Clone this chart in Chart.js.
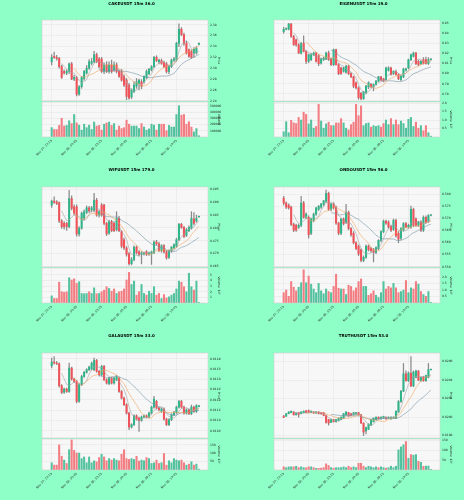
<!DOCTYPE html>
<html>
<head>
<meta charset="utf-8">
<script src="https://cdn.jsdelivr.net/npm/chart.js@4.4.0/dist/chart.umd.min.js"></script>
<style>
html, body { margin: 0; padding: 0; background: #8dffc7; }
#fig { position: relative; width: 464px; height: 500px; overflow: hidden; }
</style>
</head>
<body>
<div id="fig"></div>
<script>
// shared x axis: 60 candles of 15m, a label every 10 candles
const timeLabels = ['Nov 07, 22:15', 'Nov 08, 00:45', 'Nov 08, 03:15', 'Nov 08, 05:45', 'Nov 08, 08:15', 'Nov 08, 10:45'];
const timeTickIdx = [0, 10, 20, 30, 40, 50];
const mavPeriods = [5, 10, 20];

// CAKEUSDT
const cakeOpen = [2.312,2.322,2.320,2.318,2.303,2.294,2.291,2.294,2.308,2.280, 2.283,2.252,2.266,2.281,2.291,2.300,2.309,2.312,2.325,2.317, 2.317,2.294,2.306,2.294,2.306,2.297,2.306,2.294,2.294,2.285, 2.278,2.269,2.247,2.257,2.267,2.272,2.275,2.275,2.283,2.290, 2.297,2.303,2.320,2.312,2.314,2.310,2.308,2.294,2.303,2.315, 2.315,2.346,2.372,2.362,2.346,2.334,2.331,2.328,2.328,2.344];
const cakeHigh = [2.325,2.330,2.324,2.320,2.306,2.297,2.297,2.310,2.311,2.287, 2.285,2.268,2.285,2.296,2.305,2.316,2.318,2.331,2.328,2.320, 2.320,2.310,2.312,2.312,2.315,2.312,2.310,2.297,2.298,2.288, 2.281,2.272,2.262,2.275,2.281,2.280,2.279,2.286,2.297,2.300, 2.305,2.322,2.323,2.317,2.317,2.313,2.311,2.306,2.317,2.320, 2.348,2.382,2.375,2.365,2.350,2.336,2.334,2.338,2.340,2.347];
const cakeLow = [2.306,2.318,2.315,2.300,2.281,2.289,2.288,2.290,2.279,2.277, 2.249,2.250,2.263,2.278,2.289,2.298,2.306,2.310,2.310,2.300, 2.292,2.290,2.292,2.291,2.291,2.294,2.291,2.283,2.276,2.266, 2.242,2.243,2.244,2.255,2.263,2.260,2.262,2.272,2.281,2.288, 2.295,2.301,2.312,2.308,2.307,2.301,2.291,2.290,2.301,2.312, 2.313,2.340,2.360,2.342,2.326,2.320,2.318,2.320,2.326,2.343];
const cakeClose = [2.320,2.320,2.318,2.303,2.283,2.291,2.294,2.308,2.280,2.283, 2.252,2.266,2.283,2.294,2.300,2.312,2.312,2.325,2.312,2.303, 2.294,2.306,2.294,2.306,2.294,2.306,2.294,2.285,2.278,2.269, 2.248,2.245,2.260,2.269,2.275,2.278,2.267,2.285,2.294,2.298, 2.303,2.320,2.314,2.315,2.309,2.303,2.294,2.303,2.315,2.317, 2.346,2.372,2.362,2.346,2.328,2.322,2.320,2.335,2.337,2.346];
const cakeVol = [150000,120000,120000,185000,300000,175000,185000,260000,215000,360000, 225000,190000,110000,205000,150000,190000,120000,240000,175000,185000, 110000,205000,225000,240000,185000,215000,110000,175000,135000,150000, 270000,205000,175000,175000,175000,135000,215000,160000,110000,130000, 205000,190000,110000,205000,205000,205000,100000,185000,160000,160000, 360000,500000,350000,360000,205000,245000,160000,80000,135000,20000];
const cakePriceTicks = [2.24, 2.26, 2.28, 2.30, 2.32, 2.34, 2.36, 2.38];
const cakeVolTicks = [100000, 200000, 300000, 400000, 500000];

// EIGENUSDT
const eigenOpen = [0.8418,0.8441,0.8441,0.8493,0.8369,0.8336,0.8287,0.8205,0.8303,0.8221, 0.8123,0.8139,0.8188,0.8205,0.8179,0.8106,0.8139,0.8146,0.8205,0.8146, 0.8090,0.8238,0.8090,0.8057,0.8024,0.8014,0.8074,0.8001,0.7969,0.7910, 0.7860,0.7805,0.7752,0.7811,0.7870,0.7893,0.7870,0.7893,0.7926,0.7969, 0.7949,0.7942,0.8034,0.8057,0.8001,0.8024,0.7992,0.7942,0.7969,0.8034, 0.8057,0.8139,0.8172,0.8205,0.8123,0.8100,0.8139,0.8139,0.8100,0.8139];
const eigenHigh = [0.8461,0.8455,0.8500,0.8500,0.8380,0.8345,0.8300,0.8310,0.8375,0.8230, 0.8195,0.8200,0.8215,0.8215,0.8190,0.8155,0.8165,0.8215,0.8225,0.8155, 0.8245,0.8245,0.8100,0.8065,0.8065,0.8085,0.8085,0.8010,0.7975,0.7920, 0.7870,0.7815,0.7825,0.7885,0.7920,0.7905,0.7900,0.7935,0.7975,0.7975, 0.7955,0.8065,0.8070,0.8065,0.8030,0.8035,0.8000,0.7985,0.8055,0.8055, 0.8145,0.8195,0.8215,0.8212,0.8135,0.8130,0.8160,0.8165,0.8160,0.8150];
const eigenLow = [0.8402,0.8435,0.8435,0.8360,0.8280,0.8270,0.8200,0.8195,0.8215,0.8100, 0.8110,0.8130,0.8180,0.8115,0.8080,0.8095,0.8130,0.8140,0.8130,0.8080, 0.8080,0.8085,0.7990,0.7992,0.8015,0.8005,0.7990,0.7960,0.7860,0.7850, 0.7746,0.7740,0.7745,0.7800,0.7850,0.7860,0.7830,0.7885,0.7920,0.7930, 0.7920,0.7935,0.8025,0.7985,0.7990,0.7985,0.7940,0.7930,0.7960,0.8025, 0.8050,0.8130,0.8165,0.8090,0.8080,0.8090,0.8095,0.8095,0.8090,0.8135];
const eigenClose = [0.8441,0.8448,0.8493,0.8369,0.8287,0.8287,0.8205,0.8303,0.8221,0.8123, 0.8188,0.8188,0.8205,0.8123,0.8100,0.8146,0.8156,0.8205,0.8139,0.8090, 0.8238,0.8090,0.8001,0.8001,0.8057,0.8074,0.8001,0.7969,0.7877,0.7860, 0.7762,0.7752,0.7818,0.7877,0.7910,0.7870,0.7893,0.7926,0.7969,0.7936, 0.7926,0.8057,0.8057,0.7992,0.8024,0.7992,0.7949,0.7975,0.8047,0.8047, 0.8139,0.8188,0.8205,0.8100,0.8090,0.8123,0.8100,0.8100,0.8139,0.8146];
const eigenVol = [0.31,0.9,0.25,0.98,0.83,0.79,1.15,1.0,1.46,1.33, 0.77,1.0,0.52,0.62,1.92,0.94,0.52,0.77,0.87,0.67, 0.67,0.83,0.83,1.08,0.83,0.52,0.42,0.73,0.87,1.92, 1.25,1.83,0.67,0.79,0.83,0.58,0.67,0.62,0.67,0.58, 0.79,1.0,0.73,1.08,0.73,1.0,0.73,0.94,0.79,0.52, 1.04,1.15,0.62,0.87,0.52,0.67,0.37,0.67,0.25,0.05];
const eigenPriceTicks = [0.78, 0.79, 0.80, 0.81, 0.82, 0.83, 0.84, 0.85];
const eigenVolTicks = [0.5, 1.0, 1.5, 2.0];

// WIFUSDT
const wifOpen = [0.4889,0.4904,0.4901,0.4898,0.4827,0.4818,0.4818,0.4805,0.4914,0.4882, 0.4882,0.4776,0.4799,0.4837,0.4860,0.4878,0.4869,0.4869,0.4908,0.4850, 0.4889,0.4889,0.4818,0.4780,0.4825,0.4818,0.4793,0.4837,0.4786,0.4754, 0.4722,0.4699,0.4661,0.4677,0.4725,0.4707,0.4697,0.4699,0.4707,0.4699, 0.4699,0.4703,0.4745,0.4738,0.4712,0.4731,0.4707,0.4686,0.4712,0.4722, 0.4729,0.4754,0.4814,0.4802,0.4771,0.4789,0.4799,0.4835,0.4827,0.4843];
const wifHigh = [0.4908,0.4921,0.4906,0.4901,0.4832,0.4825,0.4822,0.4946,0.4925,0.4890, 0.4890,0.4805,0.4862,0.4870,0.4885,0.4884,0.4884,0.4934,0.4915,0.4868, 0.4895,0.4892,0.4822,0.4830,0.4830,0.4825,0.4863,0.4845,0.4790,0.4760, 0.4728,0.4705,0.4685,0.4730,0.4730,0.4712,0.4708,0.4706,0.4712,0.4706, 0.4710,0.4750,0.4752,0.4745,0.4735,0.4735,0.4712,0.4715,0.4728,0.4738, 0.4760,0.4818,0.4818,0.4806,0.4798,0.4808,0.4863,0.4860,0.4850,0.4846];
const wifLow = [0.4880,0.4895,0.4890,0.4820,0.4798,0.4795,0.4790,0.4800,0.4870,0.4850, 0.4768,0.4768,0.4795,0.4830,0.4855,0.4860,0.4862,0.4862,0.4845,0.4842, 0.4845,0.4812,0.4770,0.4775,0.4785,0.4785,0.4788,0.4785,0.4722,0.4715, 0.4690,0.4655,0.4656,0.4672,0.4698,0.4690,0.4660,0.4694,0.4692,0.4693, 0.4658,0.4700,0.4733,0.4708,0.4705,0.4702,0.4678,0.4680,0.4705,0.4718, 0.4725,0.4750,0.4798,0.4762,0.4766,0.4785,0.4795,0.4812,0.4822,0.4841];
const wifClose = [0.4904,0.4899,0.4895,0.4827,0.4805,0.4805,0.4805,0.4914,0.4876,0.4857, 0.4776,0.4799,0.4857,0.4863,0.4878,0.4866,0.4878,0.4908,0.4850,0.4863, 0.4850,0.4818,0.4777,0.4825,0.4789,0.4789,0.4837,0.4789,0.4729,0.4722, 0.4697,0.4661,0.4677,0.4725,0.4703,0.4697,0.4703,0.4703,0.4697,0.4703, 0.4707,0.4745,0.4738,0.4712,0.4731,0.4707,0.4684,0.4712,0.4725,0.4735, 0.4754,0.4814,0.4802,0.4767,0.4793,0.4802,0.4837,0.4818,0.4837,0.4844];
const wifVol = [1.27,0.8,0.8,3.7,2.0,1.9,2.0,4.5,4.1,4.3, 3.5,3.8,1.7,1.65,1.7,2.0,1.7,2.7,1.65,1.7, 2.0,2.3,2.9,2.6,2.1,2.5,1.7,2.0,2.1,2.5, 4.1,5.45,3.3,3.9,1.4,2.0,3.3,1.7,1.4,2.1, 1.7,2.9,1.4,1.7,0.8,1.5,0.9,1.1,1.4,1.7, 2.5,3.9,3.7,2.9,2.0,5.3,2.9,2.3,3.9,0.1];
const wifPriceTicks = [0.465, 0.470, 0.475, 0.480, 0.485, 0.490, 0.495];
const wifVolTicks = [1, 2, 3, 4, 5];

// ONDOUSDT
const ondoOpen = [0.5783,0.5763,0.5754,0.5746,0.5675,0.5671,0.5662,0.5671,0.5763,0.5704, 0.5704,0.5638,0.5691,0.5717,0.5737,0.5746,0.5757,0.5770,0.5803,0.5737, 0.5759,0.5746,0.5680,0.5638,0.5697,0.5684,0.5724,0.5658,0.5638,0.5599, 0.5585,0.5570,0.5526,0.5539,0.5585,0.5575,0.5570,0.5559,0.5575,0.5609, 0.5645,0.5688,0.5684,0.5667,0.5654,0.5691,0.5638,0.5618,0.5651,0.5678, 0.5664,0.5664,0.5737,0.5697,0.5671,0.5684,0.5651,0.5704,0.5688,0.5712];
const ondoHigh = [0.5790,0.5768,0.5760,0.5750,0.5680,0.5676,0.5676,0.5790,0.5770,0.5722, 0.5710,0.5700,0.5722,0.5745,0.5753,0.5762,0.5774,0.5816,0.5808,0.5762, 0.5764,0.5750,0.5684,0.5700,0.5702,0.5757,0.5730,0.5662,0.5645,0.5604, 0.5590,0.5574,0.5545,0.5590,0.5590,0.5580,0.5576,0.5582,0.5612,0.5648, 0.5693,0.5693,0.5690,0.5672,0.5697,0.5697,0.5645,0.5662,0.5682,0.5683, 0.5676,0.5750,0.5742,0.5702,0.5688,0.5690,0.5710,0.5710,0.5715,0.5715];
const ondoLow = [0.5755,0.5740,0.5738,0.5670,0.5645,0.5646,0.5658,0.5665,0.5700,0.5698, 0.5618,0.5632,0.5685,0.5712,0.5732,0.5741,0.5752,0.5765,0.5732,0.5730, 0.5738,0.5675,0.5632,0.5632,0.5672,0.5678,0.5652,0.5625,0.5594,0.5570, 0.5546,0.5520,0.5521,0.5534,0.5565,0.5560,0.5520,0.5554,0.5570,0.5604, 0.5640,0.5675,0.5658,0.5645,0.5650,0.5622,0.5599,0.5612,0.5646,0.5660, 0.5658,0.5658,0.5665,0.5666,0.5666,0.5645,0.5645,0.5680,0.5682,0.5710];
const ondoClose = [0.5763,0.5746,0.5743,0.5675,0.5651,0.5651,0.5671,0.5763,0.5704,0.5717, 0.5632,0.5697,0.5717,0.5743,0.5750,0.5759,0.5772,0.5803,0.5737,0.5759, 0.5743,0.5680,0.5638,0.5697,0.5678,0.5724,0.5658,0.5632,0.5599,0.5575, 0.5553,0.5526,0.5539,0.5585,0.5570,0.5566,0.5559,0.5579,0.5609,0.5645, 0.5688,0.5680,0.5664,0.5651,0.5691,0.5628,0.5614,0.5658,0.5678,0.5664, 0.5671,0.5737,0.5671,0.5671,0.5684,0.5651,0.5704,0.5684,0.5711,0.5713];
const ondoVol = [0.79,0.99,0.51,1.64,1.21,0.93,1.21,1.55,2.54,1.55, 2.06,1.44,1.07,0.79,1.50,0.93,0.71,1.07,0.88,0.79, 1.27,2.20,1.13,1.07,1.07,0.65,1.36,1.27,0.93,1.16, 1.64,1.84,1.27,1.27,0.59,0.71,0.93,0.59,0.42,0.79, 1.64,1.07,1.27,1.16,1.50,1.16,0.79,0.88,0.99,1.72, 0.79,1.16,1.07,1.64,1.44,0.88,0.65,0.51,0.88,0.05];
const ondoPriceTicks = [0.550, 0.555, 0.560, 0.565, 0.570, 0.575, 0.580];
const ondoVolTicks = [0.5, 1.0, 1.5, 2.0];

// GALAUSDT
const galaOpen = [0.011366,0.011384,0.011379,0.011376,0.011269,0.011237,0.011253,0.011241,0.011355,0.011301, 0.011290,0.011193,0.011274,0.011314,0.011334,0.011347,0.011350,0.011347,0.011392,0.011339, 0.011322,0.011363,0.011298,0.011279,0.011306,0.011282,0.011298,0.011306,0.011241,0.011209, 0.011177,0.011136,0.011068,0.011080,0.011123,0.011112,0.011101,0.011117,0.011123,0.011117, 0.011136,0.011165,0.011193,0.011161,0.011144,0.011156,0.011107,0.011080,0.011104,0.011128, 0.011139,0.011165,0.011193,0.011165,0.011136,0.011152,0.011133,0.011165,0.011144,0.011168];
const galaHigh = [0.011403,0.011411,0.011387,0.011380,0.011274,0.011258,0.011258,0.011379,0.011360,0.011306, 0.011295,0.011279,0.011320,0.011339,0.011352,0.011365,0.011384,0.011403,0.011397,0.011344, 0.011368,0.011368,0.011303,0.011310,0.011311,0.011310,0.011320,0.011311,0.011246,0.011214, 0.011182,0.011141,0.011085,0.011128,0.011128,0.011117,0.011122,0.011128,0.011128,0.011141, 0.011170,0.011217,0.011198,0.011166,0.011161,0.011161,0.011112,0.011109,0.011133,0.011144, 0.011170,0.011198,0.011198,0.011170,0.011157,0.011157,0.011175,0.011170,0.011177,0.011174];
const galaLow = [0.011355,0.011374,0.011371,0.011262,0.011230,0.011232,0.011236,0.011236,0.011296,0.011284, 0.011185,0.011188,0.011269,0.011309,0.011330,0.011342,0.011345,0.011342,0.011334,0.011317, 0.011317,0.011293,0.011277,0.011274,0.011277,0.011277,0.011293,0.011236,0.011204,0.011172, 0.011131,0.011055,0.011063,0.011075,0.011102,0.011047,0.011096,0.011112,0.011112,0.011112, 0.011131,0.011160,0.011156,0.011147,0.011139,0.011102,0.011075,0.011075,0.011099,0.011123, 0.011134,0.011160,0.011160,0.011131,0.011131,0.011128,0.011128,0.011139,0.011139,0.011166];
const galaClose = [0.011384,0.011379,0.011376,0.011269,0.011237,0.011253,0.011241,0.011355,0.011301,0.011290, 0.011193,0.011274,0.011314,0.011334,0.011347,0.011360,0.011379,0.011392,0.011339,0.011322, 0.011363,0.011298,0.011282,0.011306,0.011282,0.011306,0.011314,0.011241,0.011209,0.011177, 0.011136,0.011068,0.011080,0.011123,0.011107,0.011101,0.011117,0.011123,0.011117,0.011136, 0.011165,0.011204,0.011161,0.011152,0.011156,0.011107,0.011080,0.011104,0.011128,0.011139, 0.011165,0.011193,0.011165,0.011136,0.011152,0.011133,0.011165,0.011144,0.011172,0.011172];
const galaVol = [43,29,29,150,82,59,39,121,180,117, 101,101,68,78,43,78,43,55,49,74, 94,78,55,68,59,68,59,55,94,121, 68,63,68,63,82,53,59,55,74,68, 39,43,59,39,43,98,29,55,43,68, 59,55,59,43,29,35,49,29,35,5];
const galaPriceTicks = [0.01105, 0.01110, 0.01115, 0.01120, 0.01125, 0.01130, 0.01135, 0.01140];
const galaVolTicks = [50, 100, 150];

// TRUTHUSDT
const truthOpen = [0.020011,0.020011,0.020038,0.020049,0.020056,0.020026,0.020049,0.020038,0.020049,0.020068, 0.020071,0.020049,0.020056,0.020045,0.020056,0.020049,0.020049,0.020019,0.019974,0.019944, 0.019974,0.019951,0.019963,0.019974,0.019989,0.020026,0.020049,0.020038,0.020026,0.020034, 0.020049,0.020026,0.019936,0.019850,0.019869,0.019914,0.019951,0.019974,0.020000,0.019981, 0.019989,0.020000,0.019989,0.019981,0.019989,0.019989,0.020056,0.020169,0.020281,0.020469, 0.020394,0.020476,0.020338,0.020431,0.020499,0.020394,0.020431,0.020394,0.020431,0.020512];
const truthHigh = [0.020019,0.020042,0.020060,0.020068,0.020060,0.020049,0.020053,0.020060,0.020068,0.020075, 0.020079,0.020068,0.020060,0.020060,0.020060,0.020053,0.020053,0.020023,0.019978,0.019978, 0.019978,0.019978,0.019993,0.020004,0.020042,0.020060,0.020053,0.020042,0.020053,0.020053, 0.020053,0.020030,0.019940,0.019892,0.019929,0.019978,0.019993,0.020004,0.020004,0.020004, 0.020011,0.020004,0.020004,0.020004,0.020004,0.020068,0.020180,0.020290,0.020581,0.020500, 0.020490,0.020656,0.020500,0.020510,0.020506,0.020440,0.020440,0.020455,0.020581,0.020520];
const truthLow = [0.019996,0.020008,0.020034,0.020045,0.020022,0.020022,0.020000,0.020034,0.020045,0.020045, 0.020045,0.020045,0.020041,0.020041,0.020034,0.020030,0.020015,0.019936,0.019914,0.019940, 0.019947,0.019947,0.019959,0.019970,0.019985,0.020022,0.020008,0.020015,0.020022,0.020030, 0.020022,0.019932,0.019801,0.019820,0.019865,0.019910,0.019947,0.019970,0.019978,0.019978, 0.019985,0.019978,0.019985,0.019978,0.019985,0.019985,0.020050,0.020160,0.020275,0.020390, 0.020385,0.020330,0.020330,0.020425,0.020395,0.020388,0.020388,0.020388,0.020425,0.020510];
const truthClose = [0.020000,0.020038,0.020056,0.020064,0.020026,0.020045,0.020030,0.020056,0.020064,0.020049, 0.020049,0.020064,0.020045,0.020056,0.020038,0.020038,0.020019,0.019944,0.019936,0.019974, 0.019951,0.019974,0.019989,0.020000,0.020038,0.020056,0.020011,0.020019,0.020049,0.020049, 0.020026,0.019936,0.019839,0.019888,0.019925,0.019974,0.019989,0.020000,0.019981,0.020000, 0.020008,0.019981,0.020000,0.020000,0.020000,0.020064,0.020169,0.020281,0.020469,0.020394, 0.020476,0.020338,0.020488,0.020499,0.020401,0.020431,0.020394,0.020450,0.020514,0.020514];
const truthVol = [16,12,16,16,16,19,12,16,12,11, 16,16,12,8,8,9,12,31,23,12, 9,12,12,12,16,12,19,12,16,12, 34,34,19,12,19,16,12,16,12,16, 12,9,12,19,12,19,102,117,128,144, 59,78,75,78,44,39,19,20,20,3];
const truthPriceTicks = [0.0198, 0.0200, 0.0202, 0.0204, 0.0206];
const truthVolTicks = [50, 100, 150];

// colours
const upColor = '#2fb48a';
const downColor = '#ef5258';
const volUpColor = '#52c29e';
const volDownColor = '#f27d83';
const wickColor = '#8a8a8a';
const mavColors = ['#a3a3a3', '#f3a55c', '#7594a5'];
const gridColor = '#e3e3e3';

Chart.defaults.font.family = "'DejaVu Sans', sans-serif";
Chart.defaults.color = '#222';

// panel geometry (px, relative to the panel top)
const rowTops = [0, 165, 330];
const rowGeom = [
    { titleY: 3.5, priceTop: 20, priceBottom: 101, volTop: 102, volBottom: 137 },
    { titleY: 5, priceTop: 22, priceBottom: 102, volTop: 103, volBottom: 138 },
    { titleY: 6, priceTop: 23, priceBottom: 108, volTop: 109, volBottom: 140 }
];
const xMin = -3.88, xMax = 62.64;

const panels = [
    { title: 'CAKEUSDT 15m 36.0', o: cakeOpen, h: cakeHigh, l: cakeLow, c: cakeClose, v: cakeVol,
      pTicks: cakePriceTicks, pDigits: 2, pMin: 2.2395, pMax: 2.389, vTicks: cakeVolTicks, vDigits: 0, vMax: 561000, vTitle: 'Volume', col: 0, row: 0 },
    { title: 'EIGENUSDT 15m 19.0', o: eigenOpen, h: eigenHigh, l: eigenLow, c: eigenClose, v: eigenVol,
      pTicks: eigenPriceTicks, pDigits: 2, pMin: 0.7729, pMax: 0.8533, vTicks: eigenVolTicks, vDigits: 1, vMax: 2.06, vTitle: 'Volume  10\u2075', col: 1, row: 0 },
    { title: 'WIFUSDT 15m 179.0', o: wifOpen, h: wifHigh, l: wifLow, c: wifClose, v: wifVol,
      pTicks: wifPriceTicks, pDigits: 3, pMin: 0.4648, pMax: 0.4959, vTicks: wifVolTicks, vDigits: 0, vMax: 6.24, vTitle: 'Volume  10\u2076', col: 0, row: 1 },
    { title: 'ONDOUSDT 15m 56.0', o: ondoOpen, h: ondoHigh, l: ondoLow, c: ondoClose, v: ondoVol,
      pTicks: ondoPriceTicks, pDigits: 3, pMin: 0.5499, pMax: 0.5829, vTicks: ondoVolTicks, vDigits: 1, vMax: 2.68, vTitle: 'Volume  10\u2076', col: 1, row: 1 },
    { title: 'GALAUSDT 15m 33.0', o: galaOpen, h: galaHigh, l: galaLow, c: galaClose, v: galaVol,
      pTicks: galaPriceTicks, pDigits: 5, pMin: 0.011015, pMax: 0.011428, vTicks: galaVolTicks, vDigits: 0, vMax: 185, vTitle: 'Volume  10\u2075', col: 0, row: 2 },
    { title: 'TRUTHUSDT 15m 53.0', o: truthOpen, h: truthHigh, l: truthLow, c: truthClose, v: truthVol,
      pTicks: truthPriceTicks, pDigits: 4, pMin: 0.019775, pMax: 0.020694, vTicks: truthVolTicks, vDigits: 0, vMax: 157, vTitle: 'Volume  10\u2076', col: 1, row: 2 }
];

function sma(values, n) {
    return values.map((_, i) => {
        if (i < n - 1) return null;
        let s = 0;
        for (let k = i - n + 1; k <= i; k++) s += values[k];
        return s / n;
    });
}

// light plot face plus thin frame, like the matplotlib axes
const plotFace = {
    id: 'plotFace',
    beforeDraw(chart) {
        const { ctx, chartArea: a } = chart;
        ctx.save();
        ctx.fillStyle = '#f7f7f7';
        ctx.fillRect(a.left, a.top, a.width, a.height);
        ctx.restore();
    },
    afterDraw(chart) {
        const { ctx, chartArea: a } = chart;
        ctx.save();
        ctx.strokeStyle = '#cfcfcf';
        ctx.lineWidth = 0.6;
        ctx.strokeRect(a.left, a.top, a.width, a.height);
        ctx.restore();
    }
};

function makeCanvas(parent, top, height) {
    const cv = document.createElement('canvas');
    cv.width = 232;
    cv.height = height;
    cv.style.cssText = 'position:absolute;left:0;top:' + top + 'px;width:232px;height:' + height + 'px';
    parent.appendChild(cv);
    return cv;
}

function xScale(showLabels) {
    return {
        type: 'linear',
        min: xMin,
        max: xMax,
        offset: false,
        afterBuildTicks: s => { s.ticks = timeTickIdx.map(v => ({ value: v })); },
        afterFit: s => { s.height = showLabels ? 26 : 0; },
        grid: { color: gridColor, lineWidth: 0.5, offset: false, drawTicks: showLabels, tickLength: 1.5 },
        border: { display: false },
        ticks: {
            display: showLabels,
            autoSkip: false,
            minRotation: 45,
            maxRotation: 45,
            padding: 0.5,
            font: { size: 3 },
            callback: v => timeLabels[timeTickIdx.indexOf(v)]
        }
    };
}

function yScale(min, max, ticks, digits, title) {
    return {
        position: 'right',
        min: min,
        max: max,
        afterBuildTicks: s => { s.ticks = ticks.map(v => ({ value: v })); },
        afterFit: s => { s.width = 13; },
        grid: { color: gridColor, lineWidth: 0.5, tickLength: 1.2 },
        border: { display: false },
        ticks: { autoSkip: false, padding: 0.8, font: { size: 3 }, callback: v => v.toFixed(digits) },
        title: { display: true, text: title, padding: 0, font: { size: 3 } }
    };
}

function buildPanel(p) {
    const g = rowGeom[p.row];
    const box = document.createElement('div');
    box.style.cssText = 'position:absolute;left:' + (p.col * 232) + 'px;top:' + rowTops[p.row] + 'px;width:232px;height:165px';
    document.getElementById('fig').appendChild(box);

    const idx = p.o.map((_, i) => i);
    const isUp = i => p.c[i] >= p.o[i];

    // price panel: wicks, bodies, moving averages
    const priceCanvas = makeCanvas(box, 0, g.priceBottom + 3);
    const datasets = [
        {
            type: 'bar',
            data: idx.map(i => ({ x: i, y: [p.l[i], p.h[i]] })),
            backgroundColor: wickColor,
            barThickness: 0.6,
            grouped: false,
            order: 3
        },
        {
            type: 'bar',
            data: idx.map(i => ({ x: i, y: [p.o[i], p.c[i]] })),
            backgroundColor: idx.map(i => isUp(i) ? upColor : downColor),
            barThickness: 1.4,
            minBarLength: 0.6,
            grouped: false,
            order: 2
        }
    ];
    mavPeriods.forEach((n, k) => {
        datasets.push({
            type: 'line',
            data: sma(p.c, n).map((v, i) => ({ x: i, y: v })),
            borderColor: mavColors[k],
            borderWidth: 0.6,
            pointRadius: 0,
            tension: 0,
            order: 1
        });
    });

    new Chart(priceCanvas, {
        type: 'bar',
        data: { datasets: datasets },
        plugins: [plotFace],
        options: {
            responsive: false,
            animation: false,
            devicePixelRatio: 1,
            events: [],
            layout: { padding: { left: 42, right: 11, top: 0, bottom: 3 } },
            plugins: {
                legend: { display: false },
                tooltip: { enabled: false },
                title: {
                    display: true,
                    text: p.title,
                    color: '#000',
                    font: { size: 4, weight: 'bold' },
                    padding: { top: g.titleY - 2.4, bottom: g.priceTop - g.titleY - 2.4 }
                }
            },
            scales: {
                x: xScale(false),
                y: yScale(p.pMin, p.pMax, p.pTicks, p.pDigits, 'Price')
            }
        }
    });

    // volume panel
    const volCanvas = makeCanvas(box, g.volTop - 3, g.volBottom - g.volTop + 3 + 26);
    new Chart(volCanvas, {
        type: 'bar',
        data: {
            datasets: [{
                data: idx.map(i => ({ x: i, y: p.v[i] })),
                backgroundColor: idx.map(i => isUp(i) ? volUpColor : volDownColor),
                barThickness: 1.4,
                grouped: false
            }]
        },
        plugins: [plotFace],
        options: {
            responsive: false,
            animation: false,
            devicePixelRatio: 1,
            events: [],
            layout: { padding: { left: 42, right: 11, top: 3, bottom: 0 } },
            plugins: { legend: { display: false }, tooltip: { enabled: false } },
            scales: {
                x: xScale(true),
                y: yScale(0, p.vMax, p.vTicks, p.vDigits, p.vTitle)
            }
        }
    });
}

panels.forEach(buildPanel);
</script>
</body>
</html>
